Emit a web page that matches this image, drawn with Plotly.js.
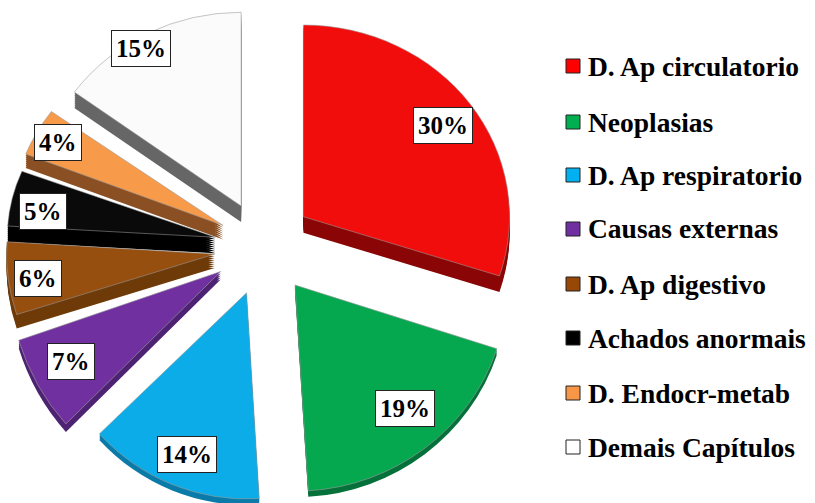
<!DOCTYPE html>
<html><head><meta charset="utf-8">
<script src="https://cdn.plot.ly/plotly-3.0.1.min.js"></script>
<style>html,body{margin:0;padding:0;background:#fff}</style></head>
<body><div id="c" style="width:815px;height:503px"></div>
<script>
var categories=["D. Ap circulatorio","Neoplasias","D. Ap respiratorio","Causas externas","D. Ap digestivo","Achados anormais","D. Endocr-metab","Demais Capítulos"];
var values=[30,19,14,7,6,5,4,15];
var colors=["#f20d0d","#05a84f","#0bace8","#7030a0","#974f0f","#0a0a0a","#f79a4a","#fbfbfb"];
var wallColors=["#8a0505","#04703a","#0a7aa8","#4e2272","#6e3a08","#000000","#8a5023","#666666"];
var legendColors=["#ff0000","#00b050","#00b0f0","#7030a0","#974706","#000000","#f79646","#ffffff"];
var wallDepths=[16,6,6,8,14,16,14,16];
var pulls=[0.22,0.2,0.2,0.22,0.22,0.22,0.22,0.22];
var labelX=[443,405,187,71,38,43,58,141];
var labelY=[126,408,454,361,278,211,143,48];
var legendY=[66,122,175,229,284,338,393,447];
var W=815,H=503;
// perspective tuning per slice: apex as drawn by the pie, apex wanted, stretch
var apexFromX=[293,282,243,218,212,212,212,236];
var apexFromY=[223,284,290,275,255,239,226,210];
var apexToX=[303,295,248,221,215,215,218,241];
var apexToY=[215,285,293,272,252,235,222,205];
var stretchX=[1,1.03,0.98,1.03,1.01,1.01,1.03,1];
var stretchY=[0.93,1.0,1.0,1.08,0.95,0.87,0.94,0.94];
var wallLevels=[2,4,6,8,10,12,14,16];
var base={type:"pie",labels:categories,values:values,sort:false,direction:"clockwise",rotation:0,
 pull:pulls,textinfo:"none",domain:{x:[0,0.63],y:[0,1]},hoverinfo:"skip",showlegend:false};
var traces=[];
wallLevels.forEach(function(lv){
 var t=Object.assign({},base);
 t.marker={colors:wallColors.map(function(c,i){return wallDepths[i]>=lv?c:"rgba(0,0,0,0)";}),line:{width:0}};
 traces.push(t);
});
var top1=Object.assign({},base);
top1.marker={colors:colors,line:{color:"#9a9a9a",width:0.6}};
traces.push(top1);
var anns=[],shapes=[];
values.forEach(function(v,i){
 anns.push({xref:"paper",yref:"paper",x:labelX[i]/W,y:1-labelY[i]/H,xanchor:"center",yanchor:"middle",showarrow:false,
  text:"<b>"+v+"%</b>",font:{family:"Liberation Serif",size:25,color:"#000"},bgcolor:"#fff",bordercolor:"#222",borderwidth:1,borderpad:4});
 anns.push({xref:"paper",yref:"paper",x:586/W,y:1-legendY[i]/H,xanchor:"left",yanchor:"middle",showarrow:false,
  text:"<b>"+categories[i]+"</b>",font:{family:"Liberation Serif",size:27.5,color:"#000"}});
 shapes.push({type:"rect",xref:"paper",yref:"paper",x0:566/W,x1:580/W,y0:1-(legendY[i]+7)/H,y1:1-(legendY[i]-7)/H,fillcolor:legendColors[i],line:{color:"#222",width:1}});
});
var layout={width:W,height:H,margin:{l:0,r:0,t:0,b:0},paper_bgcolor:"#fff",showlegend:false,annotations:anns,shapes:shapes,
 font:{family:"Liberation Serif"}};
Plotly.newPlot("c",traces,layout,{displayModeBar:false}).then(function(){
 var gs=document.querySelectorAll(".pielayer .trace");
 gs.forEach(function(g,i){
  var d=i<wallLevels.length?wallLevels[i]:0;
  g.querySelectorAll(".slice").forEach(function(s,j){
   var tx=apexToX[j]-stretchX[j]*apexFromX[j];
   var ty=apexToY[j]+d-stretchY[j]*apexFromY[j];
   s.setAttribute("transform","translate("+tx+","+ty+") scale("+stretchX[j]+","+stretchY[j]+")");
  });
 });
});
</script></body></html>
